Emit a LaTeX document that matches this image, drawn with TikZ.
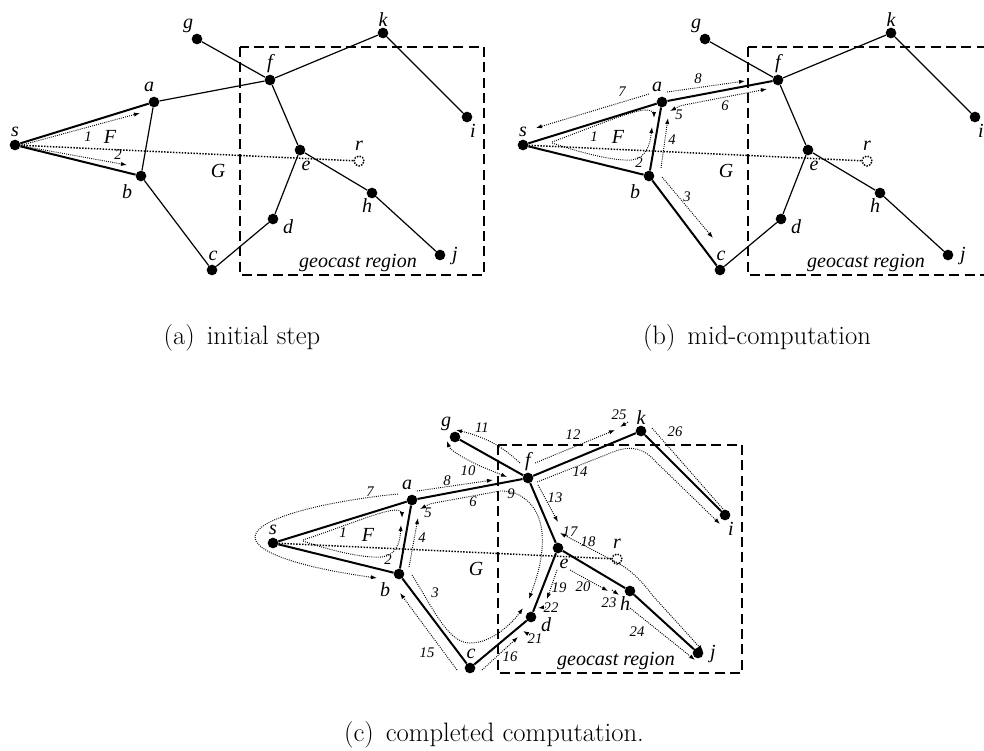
\documentclass[tikz,border=0pt]{standalone}
\usepackage{fontspec}
\newfontfamily\timesfont{Liberation Serif}
\usetikzlibrary{arrows.meta}

% the graph that all three panels share
\newcommand{\geograph}{%
  % geocast region
  \draw[regionbox] (240,47) rectangle (484,275);
  \node[lbl] (reg) at (358,263) {geocast region};
  % vertices
  \node[vertex] (s) at (15,145) {};
  \node[vertex] (a) at (154,102) {};
  \node[vertex] (b) at (141,176) {};
  \node[vertex] (c) at (212,270) {};
  \node[vertex] (d) at (273,219) {};
  \node[vertex] (e) at (300,150) {};
  \node[vertex] (f) at (270,80) {};
  \node[vertex] (g) at (197,39) {};
  \node[vertex] (k) at (383,33) {};
  \node[vertex] (i) at (467,117) {};
  \node[vertex] (h) at (372,193) {};
  \node[vertex] (j) at (440,255) {};
  \node[rnode] (r) at (359,161) {};
  \draw[ray] (s) -- (r);
  % vertex labels
  \node[lbl] (ls) at (15,132) {s};
  \node[lbl] (la) at (149,87) {a};
  \node[lbl] (lb) at (127,192) {b};
  \node[lbl] (lc) at (213,256) {c};
  \node[lbl] (ld) at (288,227) {d};
  \node[lbl] (le) at (306,166) {e};
  \node[lbl] (lf) at (270,64) {f};
  \node[lbl] (lg) at (188,26) {g};
  \node[lbl] (lk) at (383,20) {k};
  \node[lbl] (li) at (473,131) {i};
  \node[lbl] (lh) at (367,206) {h};
  \node[lbl] (lj) at (455,256) {j};
  \node[lbl] (lr) at (359,146) {r};
  \node[lbl] (lF) at (110,137) {F};
  \node[lbl] (lG) at (218,171) {G};
}

\begin{document}
\begin{tikzpicture}
[x=0.75pt,y=-0.75pt,
 vertex/.style={circle,fill=black,inner sep=0pt,minimum size=8pt},
 rnode/.style={circle,draw=black,line width=1.1pt,dash pattern=on 1.1pt off 1pt,inner sep=0pt,minimum size=7.5pt},
 lbl/.style={font=\fontsize{15}{15}\timesfont\itshape,inner sep=0pt},
 num/.style={font=\fontsize{11}{11}\timesfont\itshape,inner sep=0pt},
 caption/.style={font=\fontsize{20}{22}\selectfont,inner sep=0pt},
 thinedge/.style={black,line width=0.9pt},
 thickedge/.style={black,line width=1.5pt},
 ray/.style={black,line width=1.1pt,dash pattern=on 1.1pt off 1.1pt},
 regionbox/.style={black,line width=1.6pt,dash pattern=on 7.5pt off 4pt},
 msg/.style={black,line width=0.7pt,dash pattern=on 0.7pt off 0.9pt,>={Latex[length=4.5pt,width=3.2pt]}}]

\useasboundingbox (0,0) rectangle (984,750);

% (a) initial step
\begin{scope}[name prefix=A-]
\geograph
\draw[thickedge] (s) -- (a) (s) -- (b);
\draw[thinedge] (a) -- (b) (a) -- (f) (b) -- (c) (c) -- (d) (d) -- (e) (e) -- (f)
  (f) -- (g) (f) -- (k) (k) -- (i) (e) -- (h) (h) -- (j);
\draw[msg,->] (22,145) -- (140,113);
\draw[msg,->] (22,146) -- (127,165);
\node[num] (m1) at (88,137) {1};
\node[num] (m2) at (118,155) {2};
\node[caption] (cap) at (242,338) {(a)\hspace{0.45em}initial step};
\end{scope}

% (b) mid-computation
\begin{scope}[shift={(508,0)},name prefix=B-]
\geograph
\draw[thickedge] (s) -- (a) (s) -- (b) (a) -- (b) (a) -- (f) (b) -- (c);
\draw[thinedge] (c) -- (d) (d) -- (e) (e) -- (f)
  (f) -- (g) (f) -- (k) (k) -- (i) (e) -- (h) (h) -- (j);
\draw[msg,->] (44,142) .. controls (90,125) and (125,110) .. (138,110) .. controls (143,110) and (146,113) .. (146,118);
\draw[msg,->] (44,143) .. controls (80,155) and (108,161) .. (124,160) .. controls (138,158) and (142,145) .. (144,127);
\draw[msg,->] (154,177) -- (205,238);
\draw[msg,->] (153,168) -- (160,118);
\draw[msg,<->] (162,111) .. controls (168,108) and (170,106) .. (176,105) -- (259,89);
\draw[msg,->] (141,94) -- (28,128);
\draw[msg,->] (159,92) -- (237,81);
\node[num] (m1) at (86,137) {1};
\node[num] (m2) at (131,163) {2};
\node[num] (m3) at (179,197) {3};
\node[num] (m4) at (164,140) {4};
\node[num] (m5) at (171,115) {5};
\node[num] (m6) at (217,106) {6};
\node[num] (m7) at (114,92) {7};
\node[num] (m8) at (190,79) {8};
\node[caption] (cap) at (249,338) {(b)\hspace{0.45em}mid-computation};
\end{scope}

% (c) completed computation
\begin{scope}[shift={(258,398)},name prefix=C-]
\geograph
\draw[thickedge] (s) -- (a) (s) -- (b) (a) -- (b) (a) -- (f) (b) -- (c) (c) -- (d) (d) -- (e) (e) -- (f)
  (f) -- (g) (f) -- (k) (k) -- (i) (e) -- (h) (h) -- (j);
% face F
\draw[msg,->] (45,142) .. controls (90,127) and (125,112) .. (138,112) .. controls (142,112) and (144,115) .. (144,120);
\draw[msg,->] (45,143) .. controls (80,155) and (108,160) .. (124,159) .. controls (138,157) and (142,145) .. (143,127);
\draw[msg,->] (151,169) -- (160,120);
% round s and along a-f
\draw[msg,->] (140,96) .. controls (60,104) and (-5,122) .. (-3,140) .. controls (0,158) and (60,172) .. (119,180);
\draw[msg,->] (159,93) -- (235,82);
\draw[msg,<->] (162,111) .. controls (168,108) and (170,106) .. (176,105) -- (242,93)
  .. controls (265,92) and (282,110) .. (284,135) .. controls (286,160) and (278,182) .. (271,201);
% b-c-d
\draw[msg,->] (154,177) .. controls (175,210) and (190,245) .. (212,245) .. controls (235,245) and (255,224) .. (265,210);
\draw[msg,->] (199,272) -- (142,195);
\draw[msg,->] (224,272) -- (260,239);
\draw[msg,->] (272,237) -- (265,233);
% g and k-i
\draw[msg,<->] (189,43) .. controls (192,52) and (205,60) .. (222,68) -- (249,79);
\draw[msg,->] (262,65) .. controls (248,52) and (232,40) .. (198,32);
\draw[msg,->] (277,65) -- (357,32);
\draw[msg,->] (370,24) -- (362,29);
\draw[msg,->] (394,30) -- (472,119);
\draw[msg,->] (279,84) -- (355,54) .. controls (375,46) and (388,52) .. (398,64) -- (462,126);
% e-d, e-h-j
\draw[msg,->] (280,87) -- (300,124);
\draw[msg,<->] (302,135) -- (358,164) .. controls (375,173) and (385,185) .. (395,198) -- (445,253);
\draw[msg,->] (299,172) -- (289,201);
\draw[msg,->] (288,209) -- (280,210);
\draw[msg,->] (312,172) -- (350,193);
\draw[msg,->] (354,192) -- (361,197);
\draw[msg,->] (372,210) -- (437,262);
\node[num] (m1) at (85,135) {1};
\node[num] (m2) at (130,162) {2};
\node[num] (m3) at (177,195) {3};
\node[num] (m4) at (164,140) {4};
\node[num] (m5) at (170,115) {5};
\node[num] (m6) at (215,104) {6};
\node[num] (m7) at (112,94) {7};
\node[num] (m8) at (189,83) {8};
\node[num] (m9) at (253,96) {9};
\node[num] (m10) at (210,73) {10};
\node[num] (m11) at (224,30) {11};
\node[num] (m12) at (315,37) {12};
\node[num] (m13) at (297,100) {13};
\node[num] (m14) at (322,74) {14};
\node[num] (m15) at (169,255) {15};
\node[num] (m16) at (252,259) {16};
\node[num] (m17) at (312,134) {17};
\node[num] (m18) at (330,144) {18};
\node[num] (m19) at (301,190) {19};
\node[num] (m20) at (325,189) {20};
\node[num] (m21) at (277,241) {21};
\node[num] (m22) at (293,210) {22};
\node[num] (m23) at (351,205) {23};
\node[num] (m24) at (379,234) {24};
\node[num] (m25) at (361,17) {25};
\node[num] (m26) at (417,34) {26};
\node[caption] (cap) at (236,337) {(c)\hspace{0.45em}completed computation.};
\end{scope}

\end{tikzpicture}
\end{document}
